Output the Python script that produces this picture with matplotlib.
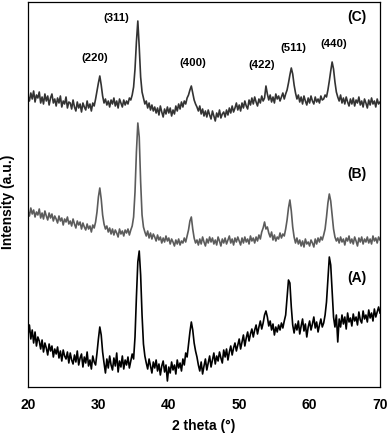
import numpy as np
import matplotlib
matplotlib.use('Agg')
import matplotlib.pyplot as plt

# 2 theta grid, 0.2 degree steps from 20 to 70
two_theta = np.linspace(20, 70, 251)

# Sample (C) - top curve, intensity (a.u.)
int_c = [
    291, 286, 294, 288, 296, 285, 292, 289, 295, 284,
    290, 283, 293, 286, 291, 282, 289, 293, 284, 288,
    281, 289, 284, 291, 280, 286, 283, 290, 279, 285,
    284, 278, 287, 280, 276, 285, 279, 283, 275, 284,
    280, 277, 286, 279, 283, 276, 284, 281, 288, 296,
    304, 311, 302, 291, 284, 288, 282, 286, 280, 287,
    283, 289, 281, 286, 279, 288, 284, 280, 287, 282,
    286, 283, 289, 287, 292, 300, 318, 345, 366, 340,
    310, 295, 289, 283, 286, 279, 284, 277, 282, 276,
    280, 274, 279, 272, 281, 275, 270, 278, 273, 280,
    274, 279, 271, 277, 273, 281, 276, 283, 278, 285,
    280, 286, 283, 289, 292, 297, 301, 294, 287, 283,
    280, 276, 281, 273, 278, 271, 276, 270, 277, 272,
    268, 276, 271, 266, 274, 270, 277, 269, 273, 275,
    270, 277, 272, 279, 274, 281, 275, 279, 284, 277,
    282, 276, 284, 279, 286, 281, 278, 287, 282, 289,
    283, 290, 285, 281, 288, 284, 291, 286, 289, 301,
    293, 287, 292, 285, 290, 284, 293, 288, 291, 286,
    290, 294, 288, 293, 297, 304, 312, 319, 313, 302,
    294, 288, 292, 285, 290, 283, 291, 286, 282, 289,
    284, 291, 286, 283, 290, 285, 288, 284, 291, 287,
    288, 292, 290, 297, 306, 316, 325, 318, 305, 295,
    290, 286, 292, 284, 289, 283, 290, 285, 281, 288,
    283, 289, 281, 287, 284, 290, 282, 286, 280, 288,
    284, 279, 287, 282, 289, 283, 286, 280, 288, 283,
    285,
]

# Sample (B) - middle curve
int_b = [
    176, 171, 179, 173, 177, 170, 175, 172, 178, 169,
    174, 168, 176, 171, 167, 174, 169, 173, 166, 171,
    168, 164, 171, 166, 169, 162, 168, 165, 170, 163,
    166, 161, 168, 163, 159, 166, 162, 165, 158, 164,
    160, 157, 163, 158, 161, 155, 162, 159, 165, 175,
    190, 199, 188, 172, 163, 158, 161, 155, 159, 153,
    158, 152, 157, 154, 150, 158, 153, 156, 151, 157,
    154, 158, 152, 157, 161, 170, 195, 235, 264, 250,
    205, 172, 160, 155, 151, 156, 149, 154, 148, 153,
    150, 146, 152, 147, 150, 144, 149, 145, 151, 146,
    149, 143, 148, 145, 141, 147, 143, 148, 142, 146,
    144, 149, 145, 151, 157, 166, 170, 158, 149, 144,
    147, 142, 148, 143, 150, 145, 141, 148, 144, 150,
    145, 149, 143, 147, 142, 150, 146, 141, 148, 144,
    149, 143, 147, 151, 144, 148, 142, 149, 145, 150,
    146, 142, 149, 144, 150, 145, 148, 143, 151, 146,
    149, 144, 150, 146, 152, 148, 155, 159, 165, 158,
    160, 154, 150, 155, 147, 152, 146, 150, 148, 154,
    149, 153, 151, 158, 167, 179, 187, 176, 160, 150,
    144, 149, 143, 147, 141, 146, 140, 148, 143, 145,
    141, 147, 144, 140, 148, 143, 149, 145, 150, 147,
    152, 158, 170, 184, 193, 186, 172, 158, 150, 146,
    149, 144, 150, 145, 148, 142, 149, 146, 151, 144,
    148, 143, 150, 146, 141, 149, 145, 150, 143, 148,
    145, 150, 144, 148, 143, 151, 146, 149, 144, 150,
    147,
]

# Sample (A) - bottom curve
int_a = [
    52, 62, 48, 57, 44, 55, 41, 50, 46, 38,
    47, 35, 44, 39, 32, 43, 36, 41, 30, 38,
    33, 40, 29, 36, 26, 37, 31, 28, 35, 24,
    34, 27, 23, 32, 25, 36, 22, 29, 33, 20,
    30, 24, 35, 21, 27, 18, 31, 25, 22, 34,
    48, 60, 52, 35, 24, 14, 28, 19, 31, 22,
    17, 29, 21, 34, 15, 26, 20, 31, 18, 27,
    22, 30, 19, 26, 33, 28, 50, 90, 125, 136,
    112, 72, 43, 31, 24, 18, 28, 21, 14, 25,
    19, 27, 16, 23, 12, 21, 26, 15, 22, 6,
    20, 14, 25, 17, 22, 13, 27, 19, 24, 16,
    28, 22, 34, 30, 43, 55, 65, 57, 44, 36,
    30, 22, 16, 25, 13, 21, 28, 17, 24, 31,
    20, 27, 34, 23, 31, 26, 35, 29, 24, 37,
    30, 38, 27, 35, 41, 32, 39, 44, 36, 42,
    48, 38, 45, 52, 41, 49, 55, 46, 53, 58,
    50, 57, 62, 53, 60, 66, 58, 64, 72, 76,
    70, 61, 66, 57, 63, 52, 60, 55, 62, 57,
    64, 59, 66, 72, 90, 107, 104, 80, 62, 54,
    63, 57, 66, 53, 61, 68, 56, 63, 50, 60,
    66, 57, 63, 70, 59, 65, 55, 62, 68, 60,
    64, 72, 85, 108, 130, 122, 96, 70, 60, 72,
    45, 68, 60, 72, 63, 70, 58, 74, 65, 69,
    61, 73, 66, 70, 62, 75, 67, 64, 76, 68,
    72, 65, 77, 69, 74, 66, 78, 70, 75, 80,
    74,
]

# peak labels (hkl) and where they sit
hkl_labels = ['(220)', '(311)', '(400)', '(422)', '(511)', '(440)']
hkl_x = [29.5, 32.6, 43.4, 53.2, 57.7, 63.4]
hkl_y = [329, 369, 324, 322, 339, 343]

sample_labels = ['(C)', '(B)', '(A)']
sample_y = [370, 213, 109]

plt.rcParams['font.family'] = ['Liberation Sans', 'DejaVu Sans']
plt.rcParams['font.weight'] = 'bold'

fig = plt.figure(figsize=(3.92, 4.34), dpi=100)
ax = fig.add_axes([28 / 392, 47 / 434, 352 / 392, 385 / 434])

ax.plot(two_theta, int_a, color='black', lw=1.2)
ax.plot(two_theta, int_b, color='#5c5c5c', lw=1.2)
ax.plot(two_theta, int_c, color='#333333', lw=1.2)

for lab, x, y in zip(hkl_labels, hkl_x, hkl_y):
    ax.text(x, y, lab, fontsize=8.2, fontweight='bold', ha='center', va='center')
for lab, y in zip(sample_labels, sample_y):
    ax.text(66.7, y, lab, fontsize=10, fontweight='bold', ha='center', va='center')

ax.set_xlim(20, 70)
ax.set_ylim(0, 385)
ax.set_xticks([20, 30, 40, 50, 60, 70])
ax.set_yticks([])
ax.tick_params(axis='x', length=0, pad=8, labelsize=10)
for lbl in ax.get_xticklabels():
    lbl.set_fontweight('bold')
for sp in ax.spines.values():
    sp.set_linewidth(0.9)

ax.set_xlabel('2 theta (°)', fontsize=10, fontweight='bold', labelpad=5)
fig.text(8 / 392, 1 - 202 / 434, 'Intensity (a.u.)', rotation=90, fontsize=10,
         fontweight='bold', ha='center', va='center')

fig.savefig('out.png', dpi=100)
